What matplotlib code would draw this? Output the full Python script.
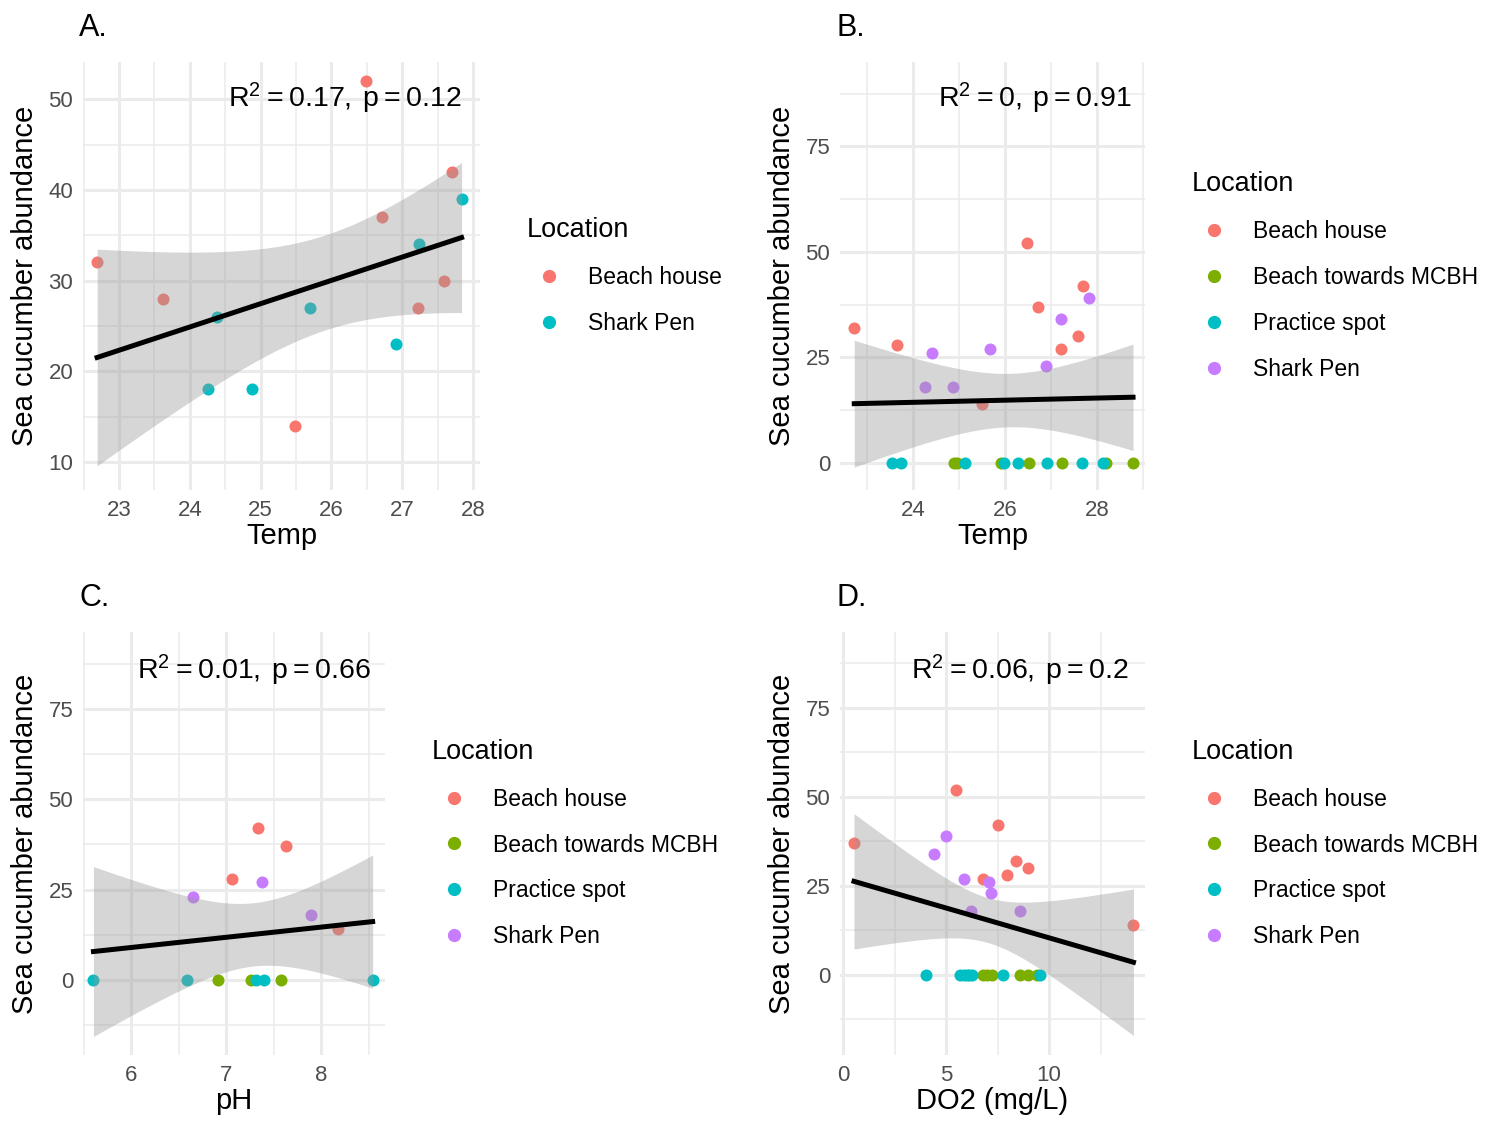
import numpy as np
import matplotlib
matplotlib.use("Agg")
import matplotlib.pyplot as plt
from matplotlib.lines import Line2D

plt.rcParams['font.family'] = ['Liberation Sans', 'DejaVu Sans']

# ---- data ----
# Panel A: temp vs abundance (2 sites)
a_beach_x = [22.69, 23.62, 25.49, 26.49, 26.72, 27.22, 27.59, 27.70]
a_beach_y = [32, 28, 14, 52, 37, 27, 30, 42]
a_shark_x = [24.26, 24.39, 24.88, 25.70, 26.91, 27.24, 27.84]
a_shark_y = [18, 26, 18, 27, 23, 34, 39]

# Panel B: temp vs abundance (4 sites)
b_beach_x = [22.72, 23.65, 25.50, 26.48, 26.72, 27.22, 27.59, 27.70]
b_beach_y = [32, 28, 14, 52, 37, 27, 30, 42]
b_mcbh_x = [24.88, 24.95, 25.91, 26.52, 27.24, 28.20, 28.78]
b_mcbh_y = [0, 0, 0, 0, 0, 0, 0]
b_pract_x = [23.54, 23.74, 25.13, 25.98, 26.28, 26.91, 27.67, 28.13]
b_pract_y = [0, 0, 0, 0, 0, 0, 0, 0]
b_shark_x = [24.40, 24.26, 24.87, 25.67, 26.89, 27.22, 27.83]
b_shark_y = [26, 18, 18, 27, 23, 34, 39]

# Panel C: pH vs abundance
c_beach_x = [7.06, 7.33, 7.63, 8.18]
c_beach_y = [28, 42, 37, 14]
c_mcbh_x = [6.91, 7.26, 7.57]
c_mcbh_y = [0, 0, 0]
c_pract_x = [5.60, 6.59, 7.31, 7.40, 8.54]
c_pract_y = [0, 0, 0, 0, 0]
c_shark_x = [6.65, 7.38, 7.89]
c_shark_y = [23, 27, 18]

# Panel D: DO2 vs abundance
d_beach_x = [0.53, 5.49, 7.52, 6.80, 7.96, 8.40, 9.00, 14.10]
d_beach_y = [37, 52, 42, 27, 28, 32, 30, 14]
d_mcbh_x = [6.80, 7.00, 7.23, 8.59, 8.98, 9.42]
d_mcbh_y = [0, 0, 0, 0, 0, 0]
d_pract_x = [4.03, 5.68, 5.85, 6.00, 6.10, 6.26, 7.77, 9.56]
d_pract_y = [0, 0, 0, 0, 0, 0, 0, 0]
d_shark_x = [5.00, 4.42, 5.87, 7.09, 7.18, 6.20, 8.60]
d_shark_y = [39, 34, 27, 26, 23, 18, 18]

sites2 = ["Beach house", "Shark Pen"]
sites4 = ["Beach house", "Beach towards MCBH", "Practice spot", "Shark Pen"]
col2 = ["#F8766D", "#00BFC4"]
col4 = ["#F8766D", "#7CAE00", "#00BFC4", "#C77CFF"]


def lm_band(ax, x, y):
    x = np.asarray(x, float)
    y = np.asarray(y, float)
    n = len(x)
    b, a = np.polyfit(x, y, 1)
    res = y - (a + b * x)
    s = np.sqrt(np.sum(res ** 2) / (n - 2))
    xs = np.linspace(x.min(), x.max(), 100)
    sxx = np.sum((x - x.mean()) ** 2)
    se = s * np.sqrt(1 / n + (xs - x.mean()) ** 2 / sxx)
    t = 1.96 + 2.4 / (n - 2)
    fit = a + b * xs
    ax.fill_between(xs, fit - t * se, fit + t * se, color="#999999", alpha=0.4, lw=0, zorder=3)
    ax.plot(xs, fit, color="black", lw=3.6, zorder=4)


def panel(ax, groups, colors, labels, tag, lab, xlabel, xlim, ylim, xticks, yticks, txt_x, txt_y, leg_x):
    allx, ally = [], []
    for (gx, gy), c in zip(groups, colors):
        ax.scatter(gx, gy, s=75, color=c, lw=0, zorder=2)
        allx += list(gx)
        ally += list(gy)
    lm_band(ax, allx, ally)
    ax.set_xticks(xticks)
    ax.set_yticks(yticks)
    dx = xticks[1] - xticks[0]
    dy = yticks[1] - yticks[0]
    mx = [v + dx / 2 for v in [xticks[0] - dx] + list(xticks)]
    my = [v + dy / 2 for v in [yticks[0] - dy] + list(yticks)]
    ax.set_xticks(mx, minor=True)
    ax.set_yticks(my, minor=True)
    ax.set_xlim(xlim)
    ax.set_ylim(ylim)
    ax.grid(which="major", color="#EBEBEB", lw=2.2, zorder=0)
    ax.grid(which="minor", color="#EBEBEB", lw=1.1, zorder=0)
    ax.set_axisbelow(True)
    for sp in ax.spines.values():
        sp.set_visible(False)
    ax.tick_params(which="both", length=0, labelsize=16, labelcolor="#4D4D4D", pad=7)
    ax.set_xlabel(xlabel, fontsize=21, labelpad=1)
    ax.set_ylabel("Sea cucumber abundance", fontsize=21, labelpad=7)
    ax.text(-0.01, 1.045, tag, transform=ax.transAxes, fontsize=22, ha="left", va="bottom")
    ax.text(txt_x, txt_y, lab, transform=ax.transAxes, fontsize=20.5, ha="center", va="center")
    handles = [Line2D([], [], marker="o", ls="", color=c, markersize=8.5) for c in colors]
    leg = ax.legend(handles, labels, title="Location", loc="center left",
                    bbox_to_anchor=(leg_x, 0.5), frameon=False, fontsize=16.5,
                    title_fontsize=19.5, handletextpad=0.7, labelspacing=1.0)
    leg._legend_box.align = "left"


fig = plt.figure(figsize=(15, 11.34), dpi=100)
W, H = 1500, 1134


def add_ax(l, r, t, b):
    return fig.add_axes([l / W, 1 - b / H, (r - l) / W, (b - t) / H])


axA = add_ax(83, 480, 62, 490)
axB = add_ax(840, 1145, 62, 490)
axC = add_ax(83, 385, 632, 1055)
axD = add_ax(840, 1145, 632, 1055)

panel(axA, [(a_beach_x, a_beach_y), (a_shark_x, a_shark_y)], col2, sites2, "A.",
      r"$\mathregular{R^2 = 0.17,\,p = 0.12}$", "Temp", (22.49, 28.1), (6.9, 54.1),
      [23, 24, 25, 26, 27, 28], [10, 20, 30, 40, 50], 0.66, 0.914, 1.065)
panel(axB, [(b_beach_x, b_beach_y), (b_mcbh_x, b_mcbh_y), (b_pract_x, b_pract_y), (b_shark_x, b_shark_y)],
      col4, sites4, "B.", r"$\mathregular{R^2 = 0,\,p = 0.91}$", "Temp", (22.41, 29.04), (-6.4, 95),
      [24, 26, 28], [0, 25, 50, 75], 0.64, 0.914, 1.085)
panel(axC, [(c_beach_x, c_beach_y), (c_mcbh_x, c_mcbh_y), (c_pract_x, c_pract_y), (c_shark_x, c_shark_y)],
      col4, sites4, "C.", r"$\mathregular{R^2 = 0.01,\,p = 0.66}$", "pH", (5.49, 8.67), (-20.8, 96.3),
      [6, 7, 8], [0, 25, 50, 75], 0.566, 0.91, 1.085)
panel(axD, [(d_beach_x, d_beach_y), (d_mcbh_x, d_mcbh_y), (d_pract_x, d_pract_y), (d_shark_x, d_shark_y)],
      col4, sites4, "D.", r"$\mathregular{R^2 = 0.06,\,p = 0.2}$", "DO2 (mg/L)", (-0.15, 14.66), (-22.5, 96.3),
      [0, 5, 10], [0, 25, 50, 75], 0.59, 0.91, 1.085)

fig.savefig("out.png", dpi=100)
